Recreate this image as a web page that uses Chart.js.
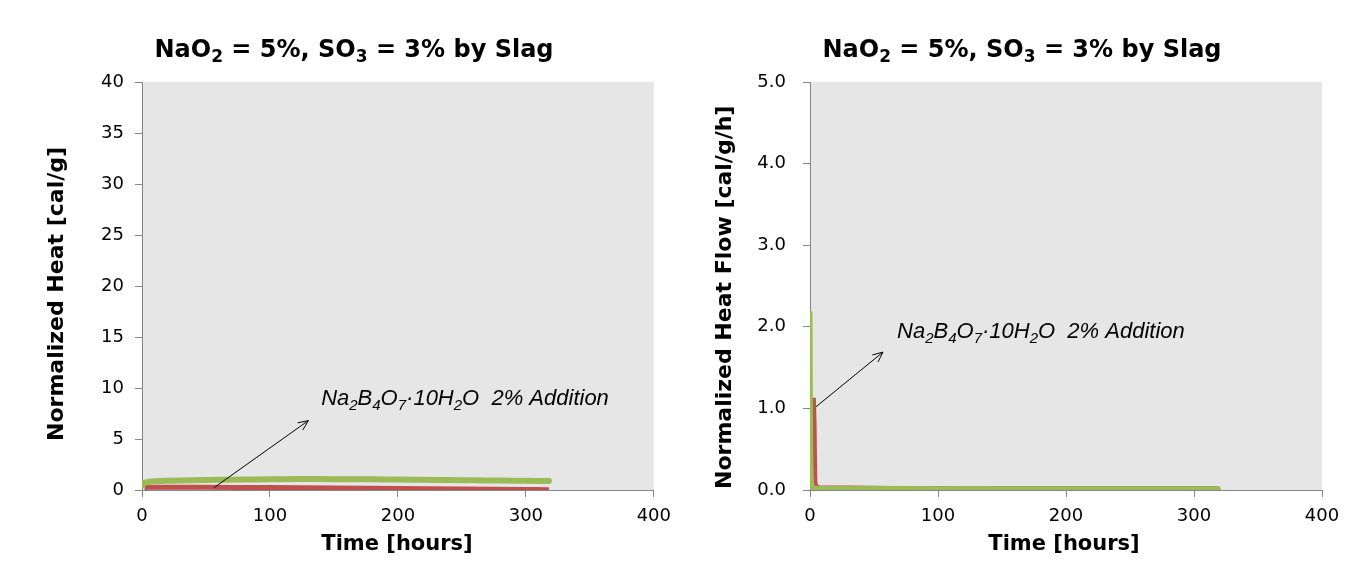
<!DOCTYPE html>
<html>
<head>
<meta charset="utf-8">
<script src="https://cdn.jsdelivr.net/npm/chart.js@4.4.1/dist/chart.umd.min.js"></script>
<style>
  html, body { margin: 0; padding: 0; background: #ffffff; }
  #wrap { position: relative; width: 1361px; height: 561px; overflow: hidden; }
  .box { position: absolute; top: 0; width: 680px; height: 561px; }
  #boxL { left: 0; }
  #boxR { left: 680px; width: 681px; }
</style>
</head>
<body>
<div id="wrap">
  <div class="box" id="boxL"><canvas id="chartL"></canvas></div>
  <div class="box" id="boxR"><canvas id="chartR"></canvas></div>
</div>
<script>
// ---------- DATA ----------
// Left chart: cumulative normalized heat [cal/g] vs time [hours]
const heatGreenTime  = [0, 2, 5, 10, 20, 40, 60, 80, 100, 120, 140, 160, 180, 200, 220, 240, 260, 280, 300, 318];
const heatGreenValue = [0.4, 0.7, 0.8, 0.85, 0.9, 0.95, 1.0, 1.03, 1.05, 1.07, 1.07, 1.06, 1.05, 1.03, 1.0, 0.98, 0.95, 0.92, 0.9, 0.88];
const heatRedTime    = [2, 5, 20, 50, 100, 150, 200, 250, 300, 318];
const heatRedValue   = [0.25, 0.27, 0.27, 0.26, 0.24, 0.2, 0.15, 0.1, 0.05, 0.03];

// Right chart: normalized heat flow [cal/g/h] vs time [hours]
const flowGreenTime  = [0, 0.8, 2, 5, 20, 50, 100, 150, 200, 250, 300, 319];
const flowGreenValue = [2.17, 0.06, 0.03, 0.02, 0.02, 0.02, 0.015, 0.015, 0.015, 0.015, 0.015, 0.015];
const flowRedTime    = [3.0, 3.6, 4.3, 6, 10, 30, 60, 100, 150, 200, 250, 300, 319];
const flowRedValue   = [1.13, 0.8, 0.08, 0.04, 0.03, 0.03, 0.025, 0.02, 0.02, 0.02, 0.02, 0.02, 0.02];

// Axis ticks
const xTicks      = [0, 100, 200, 300, 400];
const heatYTicks  = [0, 5, 10, 15, 20, 25, 30, 35, 40];
const flowYTicks  = [0, 1, 2, 3, 4, 5];

// Annotation arrows (data coordinates)
const heatArrow = { from: [56, 0.2], to: [130, 6.8], text: [140, 9.1] };
const flowArrow = { from: [4.7, 1.02], to: [57, 1.69], text: [68, 1.96] };

// ---------- TEXT ----------
const titleSegs = [
  {t: 'NaO'}, {t: '2', sub: true}, {t: ' = 5%, SO'}, {t: '3', sub: true}, {t: ' = 3% by Slag'}
];
const annoSegs = [
  {t: 'Na'}, {t: '2', sub: true}, {t: 'B'}, {t: '4', sub: true}, {t: 'O'}, {t: '7', sub: true},
  {t: '\u00B710H'}, {t: '2', sub: true}, {t: 'O  2% Addition'}
];

const GREEN = '#9bbb59';
const RED = '#c0504d';
const AXIS = '#868686';
const PLOTBG = '#e6e6e6';

function drawSegs(ctx, segs, x, y, font, subFont, align, subDy) {
  let total = 0;
  for (const s of segs) { ctx.font = s.sub ? subFont : font; total += ctx.measureText(s.t).width; }
  let cx = align === 'center' ? x - total / 2 : x;
  ctx.textBaseline = 'alphabetic';
  ctx.textAlign = 'left';
  for (const s of segs) {
    ctx.font = s.sub ? subFont : font;
    ctx.fillText(s.t, cx, s.sub ? y + subDy : y);
    cx += ctx.measureText(s.t).width;
  }
}

function makePlugin(cfg) {
  return {
    id: 'custom_' + cfg.name,
    beforeDraw(chart) {
      const {ctx, chartArea: a} = chart;
      ctx.save();
      ctx.fillStyle = PLOTBG;
      ctx.fillRect(a.left, a.top, a.right - a.left, a.bottom - a.top);
      ctx.restore();
    },
    afterDraw(chart) {
      const {ctx} = chart;
      const xs = chart.scales.x, ys = chart.scales.y;
      ctx.save();
      ctx.fillStyle = '#000';
      // chart title
      drawSegs(ctx, titleSegs, cfg.titleX, cfg.titleY,
        'bold 24px "DejaVu Sans"', 'bold 17px "DejaVu Sans"', 'center', 5);
      // x axis title
      ctx.font = 'bold 21px "DejaVu Sans"';
      ctx.textAlign = 'center';
      ctx.textBaseline = 'middle';
      ctx.fillText('Time [hours]', cfg.xTitleX, cfg.xTitleY);
      // y axis title (anchored at its bottom end)
      ctx.save();
      ctx.font = 'bold 22px "DejaVu Sans"';
      ctx.translate(cfg.yTitleX, cfg.yTitleBottom);
      ctx.rotate(-Math.PI / 2);
      ctx.textAlign = 'left';
      ctx.textBaseline = 'middle';
      ctx.fillText(cfg.yTitle, 0, 0);
      ctx.restore();
      // arrow
      const ar = cfg.arrow;
      const x1 = xs.getPixelForValue(ar.from[0]), y1 = ys.getPixelForValue(ar.from[1]);
      const x2 = xs.getPixelForValue(ar.to[0]), y2 = ys.getPixelForValue(ar.to[1]);
      ctx.strokeStyle = '#000';
      ctx.lineWidth = 1;
      ctx.beginPath(); ctx.moveTo(x1, y1); ctx.lineTo(x2, y2); ctx.stroke();
      const ang = Math.atan2(y2 - y1, x2 - x1);
      const hl = 11, hw = 0.42;
      ctx.beginPath();
      ctx.moveTo(x2 - hl * Math.cos(ang - hw), y2 - hl * Math.sin(ang - hw));
      ctx.lineTo(x2, y2);
      ctx.lineTo(x2 - hl * Math.cos(ang + hw), y2 - hl * Math.sin(ang + hw));
      ctx.stroke();
      // annotation text
      const tx = xs.getPixelForValue(ar.text[0]), ty = ys.getPixelForValue(ar.text[1]);
      drawSegs(ctx, annoSegs, tx, ty + 8,
        'italic 22px "Liberation Sans"', 'italic 15px "Liberation Sans"', 'left', 5);
      ctx.restore();
    }
  };
}

function makeChart(id, opts) {
  return new Chart(document.getElementById(id), {
    type: 'line',
    data: {
      datasets: [
        {
          data: opts.green.t.map((t, i) => ({x: t, y: opts.green.v[i]})),
          borderColor: GREEN, borderWidth: opts.greenW, pointRadius: 0,
          tension: 0.3, order: 1, borderCapStyle: 'round', borderJoinStyle: 'round'
        },
        {
          data: opts.red.t.map((t, i) => ({x: t, y: opts.red.v[i]})),
          borderColor: RED, borderWidth: opts.redW, pointRadius: 0,
          tension: 0.2, order: 2, borderCapStyle: 'butt', borderJoinStyle: 'round'
        }
      ]
    },
    options: {
      responsive: false,
      animation: false,
      events: [],
      layout: { padding: { left: 0, right: opts.padRight, top: 82, bottom: 0 } },
      plugins: { legend: { display: false }, tooltip: { enabled: false } },
      scales: {
        x: {
          type: 'linear', min: 0, max: 400,
          afterBuildTicks: s => { s.ticks = xTicks.map(v => ({value: v})); },
          afterFit: s => { s.height = 71; },
          grid: { drawOnChartArea: false, drawTicks: true, tickLength: 7, color: AXIS },
          border: { color: AXIS, width: 1 },
          ticks: { color: '#000', font: { family: '"DejaVu Sans"', size: 18 }, padding: 9, maxRotation: 0 }
        },
        y: {
          type: 'linear', min: 0, max: opts.yMax,
          afterBuildTicks: s => { s.ticks = opts.yTicks.map(v => ({value: v})); },
          afterFit: s => { s.width = opts.yWidth; },
          grid: { drawOnChartArea: false, drawTicks: true, tickLength: 7, color: AXIS },
          border: { color: AXIS, width: 1 },
          ticks: {
            color: '#000', font: { family: '"DejaVu Sans"', size: 18 }, padding: opts.yPad,
            callback: opts.yFmt
          }
        }
      }
    },
    plugins: [makePlugin(opts.plugin)]
  });
}

function sizeCanvas(id, w, h) {
  const c = document.getElementById(id);
  c.width = w; c.height = h; c.style.width = w + 'px'; c.style.height = h + 'px';
}
sizeCanvas('chartL', 680, 561);
sizeCanvas('chartR', 681, 561);

makeChart('chartL', {
  green: {t: heatGreenTime, v: heatGreenValue}, red: {t: heatRedTime, v: heatRedValue},
  greenW: 6, redW: 5, yMax: 40, yTicks: heatYTicks, yWidth: 142, padRight: 25, yPad: 11,
  yFmt: v => String(v),
  plugin: {
    name: 'L', titleX: 354, titleY: 57, xTitleX: 397, xTitleY: 545,
    yTitleX: 57, yTitleBottom: 441, yTitle: 'Normalized Heat [cal/g]', arrow: heatArrow
  }
});

makeChart('chartR', {
  green: {t: flowGreenTime, v: flowGreenValue}, red: {t: flowRedTime, v: flowRedValue},
  greenW: 5, redW: 4, yMax: 5, yTicks: flowYTicks, yWidth: 130, padRight: 39, yPad: 17,
  yFmt: v => Number(v).toFixed(1),
  plugin: {
    name: 'R', titleX: 342, titleY: 57, xTitleX: 384, xTitleY: 545,
    yTitleX: 45, yTitleBottom: 489, yTitle: 'Normalized Heat Flow [cal/g/h]', arrow: flowArrow
  }
});
</script>
</body>
</html>
